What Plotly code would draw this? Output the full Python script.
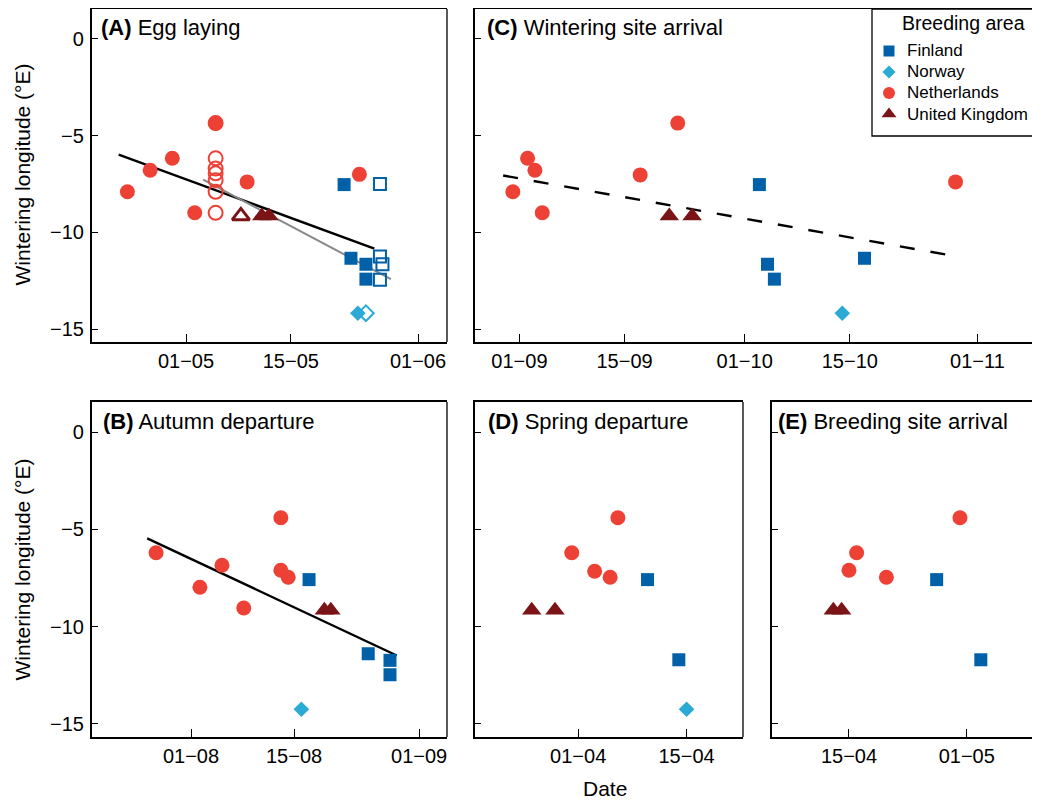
import plotly.graph_objects as go

# page body adds an 8px offset; figure sized to fit the 1040x800 window
OFF = 8
W, H = 1040 - OFF, 800 - OFF
YR = "2013-"

# ---------------- data ----------------
countries = ["Finland", "Norway", "Netherlands", "United Kingdom"]
colors = {"Finland": "#0060A8", "Norway": "#2AAAD4", "Netherlands": "#EE4136", "United Kingdom": "#7B1416"}

# (A) Egg laying
A_fi_dates = ["05-22 03:00", "05-23 01:00", "05-25 01:00", "05-25 01:00"]
A_fi_vals = [-7.53, -11.34, -11.65, -12.42]
A_fi_open_dates = ["05-26 22:00", "05-26 22:00", "05-27 06:00", "05-26 22:00"]
A_fi_open_vals = [-7.5, -11.25, -11.65, -12.45]
A_no_dates = ["05-23 23:00"]
A_no_vals = [-14.18]
A_no_open_dates = ["05-25 01:00"]
A_no_open_vals = [-14.18]
A_nl_dates = ["04-23 04:00", "04-26 05:00", "04-29 04:00", "05-04 23:00", "05-02 04:00", "05-09 04:00", "05-24 04:00"]
A_nl_vals = [-7.9, -6.79, -6.17, -4.35, -8.99, -7.39, -7.0]
A_nl_open_dates = ["05-04 23:00", "05-04 23:00", "05-04 23:00", "05-04 23:00", "05-04 23:00", "05-04 23:00", "05-04 23:00"]
A_nl_open_vals = [-4.35, -6.17, -6.7, -6.95, -7.3, -7.9, -8.99]
A_uk_dates = ["05-11 03:00", "05-12 02:00"]
A_uk_vals = [-9.15, -9.15]
A_uk_open_dates = ["05-08 08:00"]
A_uk_open_vals = [-9.15]
A_fit_dates = ["04-22 00:00", "05-26 04:00"]
A_fit_vals = [-5.98, -10.84]
A_fit2_dates = ["05-03 07:00", "05-28 09:00"]
A_fit2_vals = [-7.27, -12.42]
A_ticks = ["05-01", "05-15", "06-01"]
A_ticktext = ["01\u221205", "15\u221205", "01\u221206"]
A_range = ["04-18 10:30", "06-04 21:00"]

# (B) Autumn departure
B_fi_dates = ["08-17 01:00", "08-25 02:00", "08-28 01:00", "08-28 01:00"]
B_fi_vals = [-7.58, -11.39, -11.73, -12.47]
B_no_dates = ["08-16 00:00"]
B_no_vals = [-14.24]
B_nl_dates = ["07-27 06:00", "08-02 05:00", "08-05 05:00", "08-08 04:00", "08-13 05:00", "08-13 05:00", "08-14 05:00"]
B_nl_vals = [-6.2, -7.97, -6.84, -9.04, -4.4, -7.1, -7.46]
B_uk_dates = ["08-19 03:00", "08-20 00:00"]
B_uk_vals = [-9.15, -9.15]
B_fit_dates = ["07-26 01:00", "08-28 23:00"]
B_fit_vals = [-5.46, -11.48]
B_ticks = ["08-01", "08-15", "09-01"]
B_ticktext = ["01\u221208", "15\u221208", "01\u221209"]
B_range = ["07-18 13:00", "09-04 19:00"]

# (C) Wintering site arrival
C_fi_dates = ["10-02 23:00", "10-04 01:00", "10-04 23:00", "10-16 23:00"]
C_fi_vals = [-7.53, -11.65, -12.42, -11.34]
C_no_dates = ["10-14 00:00"]
C_no_vals = [-14.18]
C_nl_dates = ["08-31 03:00", "09-02 02:00", "09-03 01:30", "09-04 01:00", "09-17 02:00", "09-22 02:00", "10-29 02:00"]
C_nl_vals = [-7.9, -6.17, -6.79, -8.99, -7.03, -4.35, -7.39]
C_uk_dates = ["09-20 23:00", "09-24 00:00"]
C_uk_vals = [-9.15, -9.15]
C_fit_dates = ["08-29 20:00", "10-29 07:00"]
C_fit_vals = [-7.06, -11.25]
C_ticks = ["09-01", "09-15", "10-01", "10-15", "11-01"]
C_ticktext = ["01\u221209", "15\u221209", "01\u221210", "15\u221210", "01\u221211"]
C_range = ["08-26 02:00", "11-09 08:00"]

# (D) Spring departure
D_fi_dates = ["04-09 23:00", "04-14 00:00"]
D_fi_vals = [-7.58, -11.7]
D_no_dates = ["04-15 00:00"]
D_no_vals = [-14.24]
D_nl_dates = ["03-31 04:00", "04-03 03:00", "04-05 03:00", "04-06 03:00"]
D_nl_vals = [-6.2, -7.15, -7.46, -4.4]
D_uk_dates = ["03-26 00:00", "03-29 00:00"]
D_uk_vals = [-9.15, -9.15]
D_ticks = ["04-01", "04-15"]
D_ticktext = ["01\u221204", "15\u221204"]
D_range = ["03-18 16:00", "04-22 07:00"]

# (E) Breeding site arrival
E_fi_dates = ["04-26 22:00", "05-02 22:00"]
E_fi_vals = [-7.58, -11.7]
E_nl_dates = ["04-16 01:00", "04-15 00:00", "04-20 02:00", "04-30 02:00"]
E_nl_vals = [-6.2, -7.1, -7.46, -4.4]
E_uk_dates = ["04-12 21:00", "04-14 00:00"]
E_uk_vals = [-9.15, -9.15]
E_ticks = ["04-15", "05-01"]
E_ticktext = ["15\u221204", "01\u221205"]
E_range = ["04-04 13:00", "05-10 23:00"]

y_ticks = [0, -5, -10, -15]
y_ticktext = ["0", "\u22125", "\u221210", "\u221215"]
y_range = [-15.67, 1.55]

panel_titles = {"A": "Egg laying", "B": "Autumn departure", "C": "Wintering site arrival",
                "D": "Spring departure", "E": "Breeding site arrival"}
y_title = "Wintering longitude (\u00b0E)"
x_title = "Date"
legend_title = "Breeding area"

# ---------------- styling ----------------
FONT = "Liberation Sans, Arial, sans-serif"
sym = {"Finland": "square", "Norway": "diamond", "Netherlands": "circle", "United Kingdom": "triangle-up"}
size = {"Finland": 13, "Norway": 12, "Netherlands": 15, "United Kingdom": 17}
osize = {"Finland": 12, "Norway": 12, "Netherlands": 14, "United Kingdom": 15}
owidth = {"Finland": 2, "Norway": 2, "Netherlands": 2, "United Kingdom": 3}


def sx(p):  # screen px -> paper x
    return (p - OFF) / W


def sy(p):  # screen px -> paper y
    return 1 - (p - OFF) / H


def d(lst):
    return [YR + s for s in lst]


fig = go.Figure()


def pts(ax, country, dates, vals, open_=False):
    ai = "" if ax == 1 else str(ax)
    if open_:
        marker = dict(symbol=sym[country] + "-open", size=osize[country], color=colors[country],
                      line=dict(width=owidth[country], color=colors[country]))
    else:
        marker = dict(symbol=sym[country], size=size[country], color=colors[country], line=dict(width=0))
    fig.add_trace(go.Scatter(x=d(dates), y=vals, mode="markers", marker=marker, showlegend=False,
                             xaxis="x" + ai, yaxis="y" + ai, cliponaxis=False))


def fit(ax, dates, vals, color="black", width=2.4, dash="solid"):
    ai = "" if ax == 1 else str(ax)
    fig.add_trace(go.Scatter(x=d(dates), y=vals, mode="lines", line=dict(color=color, width=width, dash=dash),
                             showlegend=False, xaxis="x" + ai, yaxis="y" + ai))


# A
fit(1, A_fit_dates, A_fit_vals)
fit(1, A_fit2_dates, A_fit2_vals, color="#888888", width=2)
pts(1, "Netherlands", A_nl_open_dates, A_nl_open_vals, True)
pts(1, "Netherlands", A_nl_dates, A_nl_vals)
pts(1, "United Kingdom", A_uk_open_dates, A_uk_open_vals, True)
pts(1, "United Kingdom", A_uk_dates, A_uk_vals)
pts(1, "Finland", A_fi_dates, A_fi_vals)
pts(1, "Finland", A_fi_open_dates, A_fi_open_vals, True)
pts(1, "Norway", A_no_dates, A_no_vals)
pts(1, "Norway", A_no_open_dates, A_no_open_vals, True)
# B
fit(2, B_fit_dates, B_fit_vals)
pts(2, "Netherlands", B_nl_dates, B_nl_vals)
pts(2, "United Kingdom", B_uk_dates, B_uk_vals)
pts(2, "Finland", B_fi_dates, B_fi_vals)
pts(2, "Norway", B_no_dates, B_no_vals)
# C
fit(3, C_fit_dates, C_fit_vals, dash="15px,16px")
pts(3, "Netherlands", C_nl_dates, C_nl_vals)
pts(3, "United Kingdom", C_uk_dates, C_uk_vals)
pts(3, "Finland", C_fi_dates, C_fi_vals)
pts(3, "Norway", C_no_dates, C_no_vals)
# D
pts(4, "Netherlands", D_nl_dates, D_nl_vals)
pts(4, "United Kingdom", D_uk_dates, D_uk_vals)
pts(4, "Finland", D_fi_dates, D_fi_vals)
pts(4, "Norway", D_no_dates, D_no_vals)
# E
pts(5, "Netherlands", E_nl_dates, E_nl_vals)
pts(5, "United Kingdom", E_uk_dates, E_uk_vals)
pts(5, "Finland", E_fi_dates, E_fi_vals)

# legend glyphs on a full-figure screen-pixel axis
leg_x = 889
leg_y = [51, 72, 93, 114]
leg_size = {"Finland": 11, "Norway": 10, "Netherlands": 12, "United Kingdom": 13}
for c, yy in zip(countries, leg_y):
    fig.add_trace(go.Scatter(x=[leg_x], y=[yy], mode="markers",
                             marker=dict(symbol=sym[c], size=leg_size[c], color=colors[c], line=dict(width=0)),
                             showlegend=False, xaxis="x6", yaxis="y6", cliponaxis=False))

# ---------------- layout ----------------
TOP = 9
boxes = {  # screen pixel boxes: x0, x1, ytop, ybottom
    1: (92, 447, TOP, 342, A_ticks, A_ticktext, A_range, True),
    2: (92, 447, 402, 737, B_ticks, B_ticktext, B_range, True),
    3: (475, 1040, TOP, 342, C_ticks, C_ticktext, C_range, False),
    4: (475, 743, 402, 737, D_ticks, D_ticktext, D_range, False),
    5: (772, 1040, 402, 737, E_ticks, E_ticktext, E_range, False),
}

layout = dict(width=W, height=H, margin=dict(l=0, r=0, t=0, b=0, autoexpand=False),
              paper_bgcolor="white", plot_bgcolor="rgba(0,0,0,0)",
              font=dict(family=FONT, color="black"), showlegend=False)
shapes = []
for k, (x0, x1, yt, yb, tv, tt, rg, ylab) in boxes.items():
    ai = "" if k == 1 else str(k)
    layout["xaxis" + ai] = dict(domain=[sx(x0), sx(x1)], anchor="y" + ai, type="date",
                                range=d(rg), tickvals=d(tv), ticktext=tt,
                                showline=True, mirror=True, linecolor="black", linewidth=1.5,
                                ticks="inside", ticklen=8, tickwidth=1.2, tickcolor="black",
                                showgrid=False, zeroline=False, fixedrange=True,
                                tickfont=dict(size=20, family=FONT, color="black"), ticklabelstandoff=0)
    layout["yaxis" + ai] = dict(domain=[sy(yb), sy(yt)], anchor="x" + ai,
                                range=y_range, tickvals=y_ticks, ticktext=y_ticktext,
                                showticklabels=ylab,
                                showline=True, mirror=False, linecolor="black", linewidth=2.2,
                                ticks="inside", ticklen=6, tickwidth=1.2, tickcolor="black",
                                showgrid=False, zeroline=False, fixedrange=True,
                                tickfont=dict(size=20, family=FONT, color="black"), ticklabelstandoff=2)
    if x1 < 1040:
        shapes.append(dict(type="line", xref="x" + ai + " domain", yref="y" + ai + " domain",
                           x0=1, x1=1, y0=0, y1=1, line=dict(color="black", width=1.3)))

layout["xaxis6"] = dict(domain=[0, 1], range=[OFF, OFF + W], visible=False, fixedrange=True, anchor="y6")
layout["yaxis6"] = dict(domain=[0, 1], range=[OFF + H, OFF], visible=False, fixedrange=True, anchor="x6")

# legend box
shapes.append(dict(type="rect", xref="paper", yref="paper", x0=sx(872), x1=1.05, y0=sy(136), y1=sy(TOP),
                   line=dict(color="black", width=1.3), layer="below"))
layout["shapes"] = shapes

ann = []
title_pos = {"A": (99, 27), "B": (101, 421), "C": (485, 27), "D": (486, 421), "E": (776, 421)}
for key, (tx, ty) in title_pos.items():
    ann.append(dict(xref="paper", yref="paper", x=sx(tx), y=sy(ty), xanchor="left", yanchor="middle",
                    showarrow=False, text="<b>(" + key + ")</b> " + panel_titles[key],
                    font=dict(size=22, family=FONT, color="black")))
for cy in [174.5, 569.5]:
    ann.append(dict(xref="paper", yref="paper", x=sx(22), y=sy(cy), xanchor="center", yanchor="middle",
                    showarrow=False, text=y_title, textangle=-90, font=dict(size=21, family=FONT, color="black")))
ann.append(dict(xref="paper", yref="paper", x=sx(605), y=sy(788), xanchor="center", yanchor="middle",
                showarrow=False, text=x_title, font=dict(size=21, family=FONT, color="black")))
ann.append(dict(xref="paper", yref="paper", x=sx(963), y=sy(23), xanchor="center", yanchor="middle",
                showarrow=False, text=legend_title, font=dict(size=19.5, family=FONT, color="black")))
for c, yy in zip(countries, leg_y):
    ann.append(dict(xref="paper", yref="paper", x=sx(905), y=sy(yy), xanchor="left", yanchor="middle",
                    showarrow=False, text=c, font=dict(size=17, family=FONT, color="black")))
layout["annotations"] = ann

fig.update_layout(**layout)
fig.write_html("out.html")
